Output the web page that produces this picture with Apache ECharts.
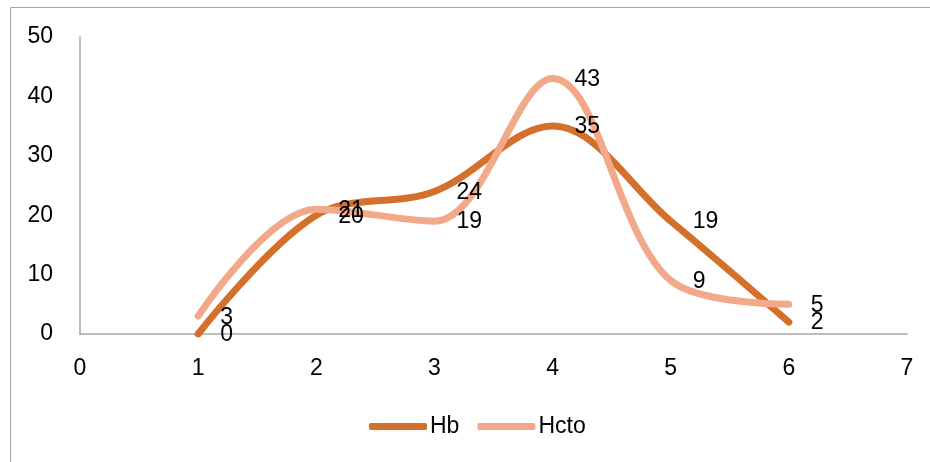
<!DOCTYPE html>
<html>
<head>
<meta charset="utf-8">
<script src="https://cdn.jsdelivr.net/npm/echarts@6/dist/echarts.min.js"></script>
<style>
  html, body { margin: 0; padding: 0; background: #fff; }
  #chart { width: 930px; height: 462px; }
</style>
</head>
<body>
<div id="chart"></div>
<script>
// Measurement points and the two series
const xValues = [1, 2, 3, 4, 5, 6];
const hbValues = [0, 20, 24, 35, 19, 2];
const hctoValues = [3, 21, 19, 43, 9, 5];
const seriesNames = ['Hb', 'Hcto'];
const seriesColors = ['#d4702b', '#f2a98a'];

const FONT = '"Liberation Sans", Arial, sans-serif';
const FONT_SIZE = 23;
const pairs = (ys) => xValues.map((x, i) => [x, ys[i]]);

function lineSeries(name, values, color, z) {
  return {
    name: name,
    type: 'line',
    smooth: 0.35,
    data: pairs(values),
    symbol: 'none',
    color: color,
    lineStyle: { width: 7, color: color, cap: 'round', join: 'round' },
    emphasis: { disabled: true },
    z: z
  };
}

// Value labels sit above both curves, so they get their own top layer
function labelSeries(values, z) {
  return {
    type: 'scatter',
    data: pairs(values),
    symbolSize: 0,
    silent: true,
    itemStyle: { opacity: 1 },
    label: {
      show: true,
      position: 'right',
      distance: 22,
      offset: [0, 1],
      color: '#000',
      opacity: 1,
      fontSize: FONT_SIZE,
      fontFamily: FONT,
      formatter: (p) => String(p.value[1])
    },
    emphasis: { disabled: true },
    z: z
  };
}

const chart = echarts.init(document.getElementById('chart'), null, { renderer: 'canvas' });
chart.setOption({
  animation: false,
  backgroundColor: '#fff',
  graphic: [{
    type: 'rect',
    shape: { x: 10.5, y: 7.5, width: 1000, height: 600 },
    style: { fill: 'none', stroke: '#a6a6a6', lineWidth: 1 },
    silent: true,
    z: -1
  }],
  grid: { left: 80, right: 23, top: 37, bottom: 128 },
  xAxis: {
    type: 'value',
    min: 0, max: 7, interval: 1,
    axisLine: { show: true, lineStyle: { color: '#a6a6a6', width: 1.5 } },
    axisTick: { show: false },
    splitLine: { show: false },
    axisLabel: { color: '#000', fontSize: FONT_SIZE, fontFamily: FONT, margin: 23 }
  },
  yAxis: {
    type: 'value',
    min: 0, max: 50, interval: 10,
    axisLine: { show: true, lineStyle: { color: '#a6a6a6', width: 1.5 } },
    axisTick: { show: false },
    splitLine: { show: false },
    axisLabel: { color: '#000', fontSize: FONT_SIZE, fontFamily: FONT, margin: 27 }
  },
  legend: {
    bottom: 19,
    left: 364,
    icon: 'roundRect',
    itemWidth: 58,
    itemHeight: 7,
    itemGap: 18,
    textStyle: { color: '#000', fontSize: FONT_SIZE, fontFamily: FONT, padding: [0, 0, 0, -2] },
    data: seriesNames.map((n, i) => ({ name: n, itemStyle: { color: seriesColors[i] } }))
  },
  series: [
    lineSeries(seriesNames[0], hbValues, seriesColors[0], 2),
    lineSeries(seriesNames[1], hctoValues, seriesColors[1], 3),
    labelSeries(hctoValues, 10),
    labelSeries(hbValues, 11)
  ]
});
</script>
</body>
</html>
